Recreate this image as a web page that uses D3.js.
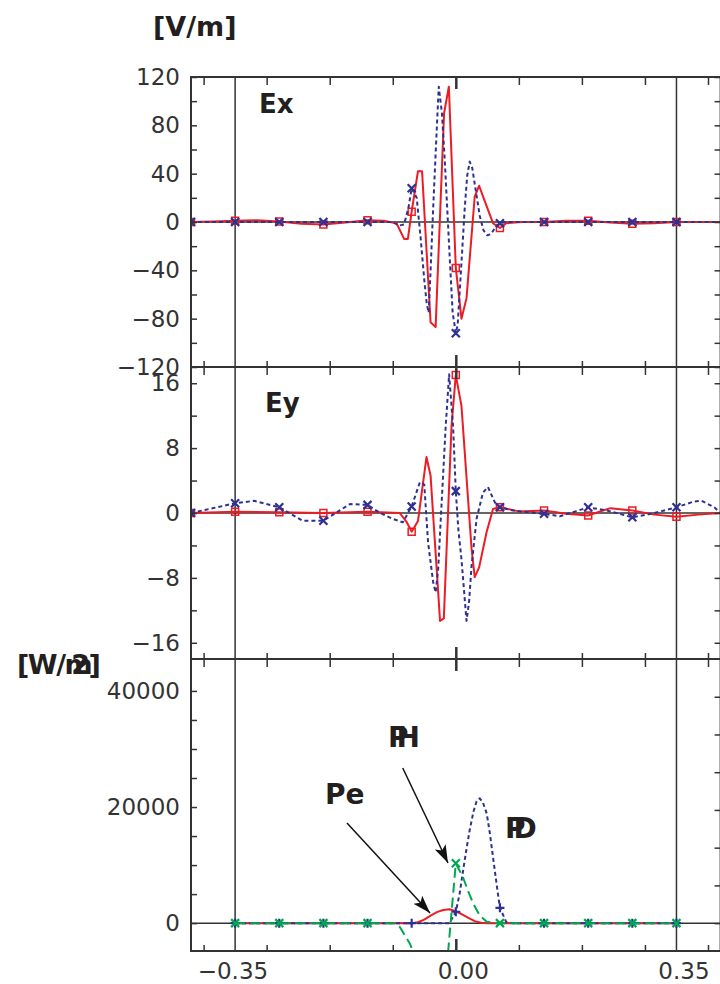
<!DOCTYPE html>
<html>
<head>
<meta charset="utf-8">
<script src="https://cdnjs.cloudflare.com/ajax/libs/d3/7.8.5/d3.min.js"></script>
<style>
body { margin: 0; background: #fff; }
svg { display: block; }
</style>
</head>
<body>
<script>
// Ex panel [V/m]: red solid with squares, blue dotted with crosses
var exRedX = [-0.42, -0.385, -0.35, -0.315, -0.28, -0.245, -0.21, -0.175, -0.14, -0.115, -0.094, -0.082, -0.076, -0.07, -0.06, -0.0535, -0.04, -0.032, -0.0186, -0.011, 0, 0.009, 0.017, 0.03, 0.037, 0.044, 0.059, 0.07, 0.08, 0.105, 0.14, 0.175, 0.21, 0.245, 0.28, 0.315, 0.35, 0.385, 0.42];
var exRedY = [0, 0.5, 1, 1.5, 0.5, -1.5, -2, -0.5, 1.5, 1, -1, -14, -14, 8.5, 42, 42, -83, -87, 90, 112, -38, -80, -63, 21, 30, 20, -1, -5, -1, 0, 0, 1, 1, -0.5, -1.5, -1, 0, 0, 0];
var exBlueX = [-0.42, -0.35, -0.28, -0.21, -0.14, -0.1, -0.09, -0.082, -0.075, -0.07, -0.062, -0.056, -0.05, -0.046, -0.043, -0.04, -0.036, -0.031, -0.027, -0.022, -0.0175, -0.013, -0.0095, -0.005, 0, 0.003, 0.006, 0.01, 0.014, 0.018, 0.022, 0.026, 0.032, 0.038, 0.044, 0.05, 0.056, 0.062, 0.07, 0.08, 0.14, 0.21, 0.28, 0.35, 0.42];
var exBlueY = [0, 0, 0, 0, 0, 0, -3, -2, 12, 28, 20, -12, -48, -68, -75, -40, 10, 68, 112, 90, 51, 5, -31, -75, -92, -85, -59, -25, 10, 38, 50, 45, 25, 5, -7, -11, -10, -5, -1, 0, 0, 0, 0, 0, 0];

// Ey panel
var eyRedX = [-0.42, -0.35, -0.28, -0.21, -0.14, -0.089, -0.078, -0.07, -0.06, -0.0465, -0.04, -0.025, -0.019, -0.0068, 0, 0.009, 0.025, 0.03, 0.037, 0.0487, 0.059, 0.07, 0.1, 0.14, 0.175, 0.21, 0.245, 0.28, 0.315, 0.35, 0.385, 0.42];
var eyRedY = [0, 0.15, 0.1, 0, 0.15, 0, -1.1, -2.3, -1, 6.9, 4.6, -13.3, -13, 10.7, 17, 13.2, -4.4, -7.9, -6.7, -2.4, 0.5, 0.7, 0.2, 0.3, -0.1, -0.3, 0.6, 0.3, -0.2, -0.45, -0.2, 0];
var eyBlueX = [-0.42, -0.35, -0.32, -0.28, -0.243, -0.21, -0.168, -0.14, -0.12, -0.0995, -0.084, -0.07, -0.057, -0.05, -0.044, -0.036, -0.032, -0.028, -0.023, -0.016, -0.0106, -0.0043, 0, 0.004, 0.009, 0.017, 0.021, 0.025, 0.033, 0.043, 0.051, 0.062, 0.07, 0.091, 0.14, 0.165, 0.19, 0.21, 0.24, 0.28, 0.31, 0.35, 0.377, 0.39, 0.41, 0.42];
var eyBlueY = [0, 1.2, 1.5, 0.7, -0.95, -0.95, 1.1, 1.0, 0, -0.74, -1.15, 0.8, 3.8, 3.5, -3.6, -8.5, -9.8, -7, 0.5, 10.7, 17.1, 10.7, 2.7, -2, -5.7, -13.3, -11, -6.5, -0.7, 2.5, 3.2, 1.3, 0.7, 0.3, -0.1, -0.4, 0.2, 0.7, 0.3, -0.53, -0.1, 0.7, 1.4, 1.5, 0.7, 0];

// power panel [W/m2]: Pe red, PD blue dotted, PH green dashed
var peX = [-0.35, -0.28, -0.21, -0.14, -0.07, -0.06, -0.05, -0.04, -0.03, -0.02, -0.01, 0, 0.01, 0.02, 0.03, 0.04, 0.05, 0.07, 0.14, 0.21, 0.28, 0.35];
var peY = [0, 0, 0, 0, 0, 150, 600, 1300, 1900, 2250, 2380, 2050, 1500, 900, 350, 60, 0, 0, 0, 0, 0, 0];
var pdX = [-0.35, -0.28, -0.21, -0.14, -0.07, -0.01, 0, 0.006, 0.0116, 0.017, 0.022, 0.028, 0.033, 0.038, 0.043, 0.049, 0.054, 0.059, 0.065, 0.07, 0.08, 0.09, 0.14, 0.21, 0.28, 0.35];
var pdY = [0, 0, 0, 0, 0, 0, 1960, 5000, 9100, 12800, 16000, 19200, 21000, 21500, 20800, 18900, 15500, 11400, 6500, 2640, 200, 0, 0, 0, 0, 0];
var phX = [-0.35, -0.28, -0.21, -0.14, -0.1, -0.095, -0.089, -0.073, -0.06, -0.04, -0.02, -0.016, -0.012, 0, 0.011, 0.02, 0.0275, 0.038, 0.049, 0.06, 0.07, 0.14, 0.21, 0.28, 0.35];
var phY = [0, 0, 0, 0, 0, -100, -640, -3500, -7000, -12000, -10000, -8000, -4700, 10300, 8000, 5400, 3400, 1300, 250, 50, 0, 0, 0, 0, 0];

// ticks
var xTicks = [-0.4, -0.3, -0.2, -0.1, 0, 0.1, 0.2, 0.3, 0.4];
var xLabels = [-0.35, 0, 0.35];
var guideX = [-0.35, 0.35];
var exTicks = [-120, -100, -80, -60, -40, -20, 0, 20, 40, 60, 80, 100, 120];
var exLabels = [-120, -80, -40, 0, 40, 80, 120];
var eyTicks = [-16, -12, -8, -4, 0, 4, 8, 12, 16];
var eyLabels = [-16, -8, 0, 8, 16];
var pTicks = [0, 5000, 10000, 15000, 20000, 25000, 30000, 35000, 40000];
var pLabels = [0, 20000, 40000];
var pRightTicks = [0, 6500, 13000, 19500, 26000, 32500, 39000];

// annotations in the power panel (data units)
var noteText = ["Pe", "PH", "PD"];
var noteX = [-0.2075, -0.1075, 0.078];
var noteY = [20500, 30300, 14650];
var arrowFromX = [-0.1726, -0.0842];
var arrowFromY = [17240, 26720];
var arrowToX = [-0.0409, -0.0124];
var arrowToY = [1740, 10350];

var RED = "#ed1c24", BLUE = "#2e3192", GREEN = "#00a651", INK = "#333";
var left = 191, right = 720.6;

var svg = d3.select("body").append("svg").attr("width", 720).attr("height", 984);

var x = d3.scaleLinear().domain([-0.42, 0.42]).range([left, right]);

var panels = [
	{top: 77, bottom: 367, dom: [-120, 120], ticks: exTicks, labels: exLabels, rticks: exTicks},
	{top: 367, bottom: 659, dom: [-18, 18], ticks: eyTicks, labels: eyLabels, rticks: eyTicks},
	{top: 659, bottom: 951, dom: [-4800, 45500], ticks: pTicks, labels: pLabels, rticks: pRightTicks}
];

var defs = svg.append("defs");
defs.append("marker")
	.attr("id", "head")
	.attr("markerUnits", "userSpaceOnUse")
	.attr("markerWidth", 20).attr("markerHeight", 14)
	.attr("refX", 18).attr("refY", 6)
	.attr("orient", "auto")
	.append("path").attr("d", "M0,0L18,6L0,12L4,6Z").attr("fill", "#111");

var guides = svg.append("g");
panels.forEach(function(p, i){
	p.y = d3.scaleLinear().domain(p.dom).range([p.bottom, p.top]);
	defs.append("clipPath").attr("id", "clip" + i)
		.append("rect").attr("x", left).attr("y", p.top).attr("width", right - left).attr("height", p.bottom - p.top);
	guides.append("line")
		.attr("x1", left).attr("x2", right)
		.attr("y1", p.y(0)).attr("y2", p.y(0))
		.attr("stroke", INK).attr("stroke-width", 1.5);
	p.layer = svg.append("g").attr("clip-path", "url(#clip" + i + ")");
});

guides.selectAll(".guide").data(guideX).enter().append("line")
	.attr("x1", function(d){ return x(d); }).attr("x2", function(d){ return x(d); })
	.attr("y1", panels[0].top).attr("y2", panels[2].bottom)
	.attr("stroke", INK).attr("stroke-width", 1.5);

function isMark(v){
	var k = v / 0.07;
	return Math.abs(k - Math.round(k)) < 1e-6 && v <= 0.351;
}

function plotSeries(p, xs, ys, color, dash, mark){
	var pts = xs.map(function(v, i){ return [v, ys[i]]; });
	var line = d3.line()
		.x(function(d){ return x(d[0]); })
		.y(function(d){ return p.y(d[1]); });
	p.layer.append("path").datum(pts)
		.attr("d", line)
		.attr("fill", "none")
		.attr("stroke", color)
		.attr("stroke-width", 2)
		.attr("stroke-dasharray", dash)
		.attr("stroke-linejoin", "round");
	if(!mark) return;
	var shape = mark == "square" ? "M-3.5,-3.5H3.5V3.5H-3.5Z"
		: mark == "plus" ? "M-4.5,0H4.5M0,-4.5V4.5"
		: "M-4,-4L4,4M-4,4L4,-4";
	p.layer.selectAll(null).data(pts.filter(function(d){ return isMark(d[0]); })).enter()
		.append("path")
		.attr("transform", function(d){ return "translate(" + x(d[0]) + "," + p.y(d[1]) + ")"; })
		.attr("d", shape)
		.attr("fill", "none")
		.attr("stroke", color)
		.attr("stroke-width", mark == "square" ? 1.5 : 2.2);
}

plotSeries(panels[0], exRedX, exRedY, RED, null, "square");
plotSeries(panels[0], exBlueX, exBlueY, BLUE, "4,3", "cross");
plotSeries(panels[1], eyRedX, eyRedY, RED, null, "square");
plotSeries(panels[1], eyBlueX, eyBlueY, BLUE, "4,3", "cross");
plotSeries(panels[2], peX, peY, RED, null, null);
plotSeries(panels[2], pdX, pdY, BLUE, "4,3", "plus");
plotSeries(panels[2], phX, phY, GREEN, "10,5", "cross");

// axes
var fmt = d3.format("d");
function styleAxis(g){
	g.select(".domain").remove();
	g.selectAll(".tick line").attr("stroke", INK).attr("stroke-width", 1.5);
	g.selectAll(".tick text")
		.attr("font-family", "DejaVu Sans")
		.attr("font-size", 23)
		.attr("fill", INK);
}

panels.forEach(function(p){
	svg.append("g").attr("transform", "translate(" + left + ",0)")
		.call(d3.axisLeft(p.y).tickValues(p.ticks).tickSizeInner(-6).tickSizeOuter(0).tickPadding(11)
			.tickFormat(function(v){ return p.labels.indexOf(v) >= 0 ? fmt(v) : ""; }))
		.call(styleAxis);
	svg.append("g").attr("transform", "translate(" + right + ",0)")
		.call(d3.axisRight(p.y).tickValues(p.rticks).tickSizeInner(-6).tickSizeOuter(0).tickFormat(""))
		.call(styleAxis);

	var top = svg.append("g").attr("transform", "translate(0," + p.top + ")")
		.call(d3.axisTop(x).tickValues(xTicks).tickSizeInner(-8).tickSizeOuter(0).tickFormat(""))
		.call(styleAxis);
	top.selectAll(".tick").filter(function(d){ return d === 0; }).select("line")
		.attr("y2", 12).attr("stroke-width", 2.5);
	var bot = svg.append("g").attr("transform", "translate(0," + p.bottom + ")")
		.call(d3.axisBottom(x).tickValues(xTicks).tickSizeInner(-6).tickSizeOuter(0).tickFormat(""))
		.call(styleAxis);
	bot.selectAll(".tick").filter(function(d){ return d === 0; }).select("line")
		.attr("y2", -12).attr("stroke-width", 2.5);
});

// frame
svg.append("rect")
	.attr("x", left).attr("y", panels[0].top)
	.attr("width", right - left).attr("height", panels[2].bottom - panels[0].top)
	.attr("fill", "none").attr("stroke", INK).attr("stroke-width", 2);
svg.selectAll(".sep").data([panels[0].bottom, panels[1].bottom]).enter().append("line")
	.attr("x1", left).attr("x2", right)
	.attr("y1", function(d){ return d; }).attr("y2", function(d){ return d; })
	.attr("stroke", INK).attr("stroke-width", 2);

// x labels lined up on the decimal point
var xfmt = d3.format(".2f");
xLabels.forEach(function(v){
	var s = xfmt(v);
	var t = svg.append("text")
		.attr("y", 979)
		.attr("font-family", "DejaVu Sans").attr("font-size", 23).attr("fill", INK)
		.text(s);
	var intW = t.node().getSubStringLength(0, s.indexOf("."));
	t.attr("x", x(v) - 3.5 - intW);
});

// titles
var bold = svg.append("g")
	.attr("font-family", "DejaVu Sans").attr("font-weight", "bold").attr("fill", "#231f20");
bold.append("text").attr("x", 153).attr("y", 36).attr("font-size", 27).text("[V/m]");
bold.append("text").attr("x", 17).attr("y", 674).attr("font-size", 27)
	.attr("letter-spacing", -1.5)
	.attr("dx", "0 0 0 0 -20 0")
	.text("[W/m2]");
bold.append("text").attr("x", x(-0.312)).attr("y", panels[0].y(90)).attr("font-size", 26).text("Ex");
bold.append("text").attr("x", x(-0.3026)).attr("y", panels[1].y(12.4)).attr("font-size", 26).text("Ey");

var py = panels[2].y;
noteText.forEach(function(t, i){
	bold.append("text")
		.attr("x", x(noteX[i])).attr("y", py(noteY[i]))
		.attr("font-size", 28)
		.attr("dx", t == "Pe" ? null : "0 -12")
		.text(t);
});

arrowFromX.forEach(function(v, i){
	svg.append("line")
		.attr("x1", x(v)).attr("y1", py(arrowFromY[i]))
		.attr("x2", x(arrowToX[i])).attr("y2", py(arrowToY[i]))
		.attr("stroke", "#111").attr("stroke-width", 1.5)
		.attr("marker-end", "url(#head)");
});
</script>
</body>
</html>
